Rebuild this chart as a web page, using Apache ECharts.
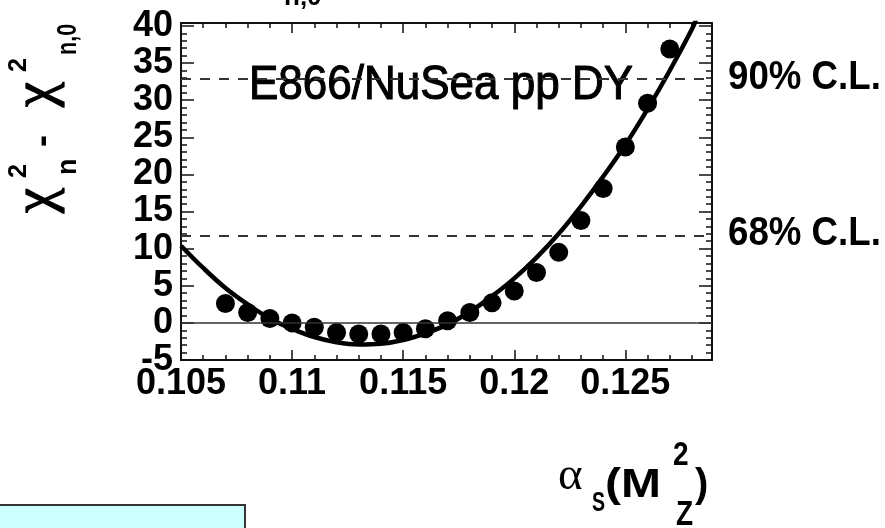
<!DOCTYPE html>
<html><head><meta charset="utf-8">
<script src="https://cdn.jsdelivr.net/npm/echarts@6/dist/echarts.min.js"></script>
<style>html,body{margin:0;padding:0;background:#fff}#c{width:885px;height:528px}</style>
</head><body><div id="c"></div>
<script>
// ---- data ----
const pointX = [0.107,0.108,0.109,0.110,0.111,0.112,0.113,0.114,0.115,0.116,0.117,0.118,0.119,0.120,0.121,0.122,0.123,0.124,0.125,0.126,0.127];
const pointY = [2.6,1.4,0.6,0.0,-0.6,-1.3,-1.5,-1.5,-1.3,-0.8,0.3,1.4,2.7,4.3,6.8,9.5,13.8,18.1,23.7,29.6,36.9];
const curveX = [0.105,0.106,0.107,0.108,0.109,0.110,0.111,0.112,0.113,0.114,0.115,0.116,0.117,0.118,0.119,0.120,0.121,0.122,0.123,0.124,0.125,0.126,0.127,0.128,0.1282];
const curveY = [10.4,7.4,4.7,2.5,0.6,-0.8,-1.9,-2.6,-2.9,-2.8,-2.3,-1.4,-0.2,1.5,3.6,6.0,8.8,12.0,15.7,19.7,24.0,28.8,34.0,39.6,41.0];
const zeroLevel = [0];
const clLevels = [11.8, 32.9];          // 68% C.L., 90% C.L.
const clLabels = ['68% C.L.', '90% C.L.'];
const plotLabel = ['E866/NuSea pp DY'];

const SANS = '"Liberation Sans", Arial, Helvetica, sans-serif';
const SERIF = '"Liberation Serif", "Times New Roman", serif';

const chart = echarts.init(document.getElementById('c'), null, {renderer: 'canvas'});

function zip(a, b) { return a.map((v, i) => [v, b[i]]); }
function mid(f) { return 0.3465 * f; } // baseline offset for 'middle'

const axisCommonX = {
  type: 'value', min: 0.105, max: 0.1289, interval: 0.005,
  axisLine: {show: true, onZero: false, lineStyle: {color: '#111', width: 2}},
  axisTick: {show: true, inside: true, length: 10, lineStyle: {color: '#111', width: 1.5}},
  minorTick: {show: true, splitNumber: 5, length: 5, lineStyle: {color: '#111', width: 1.5}},
  splitLine: {show: false}, minorSplitLine: {show: false}
};
const axisCommonY = {
  type: 'value', min: -5, max: 40.4, interval: 5,
  axisLine: {show: true, onZero: false, lineStyle: {color: '#111', width: 2}},
  axisTick: {show: true, inside: true, length: 13, lineStyle: {color: '#111', width: 1.5}},
  minorTick: {show: true, splitNumber: 5, length: 6, lineStyle: {color: '#111', width: 1.5}},
  splitLine: {show: false}, minorSplitLine: {show: false}
};

const option = {
  animation: false,
  backgroundColor: '#ffffff',
  grid: {left: 181, right: 173, top: 23, bottom: 168, containLabel: false},
  xAxis: [
    Object.assign({}, axisCommonX, {position: 'bottom',
      axisLabel: {show: true, margin: 6, color: '#000', fontSize: 36, fontWeight: 'bold', fontFamily: SANS,
        showMaxLabel: false, showMinLabel: true,
        formatter: v => String(+(+v).toFixed(3))}}),
    Object.assign({}, axisCommonX, {position: 'top', axisLabel: {show: false}})
  ],
  yAxis: [
    Object.assign({}, axisCommonY, {position: 'left',
      axisLabel: {show: true, margin: 8, color: '#000', fontSize: 36, fontWeight: 'bold', fontFamily: SANS,
        showMaxLabel: false, showMinLabel: true,
        formatter: v => String(Math.round(v))}}),
    Object.assign({}, axisCommonY, {position: 'right', axisLabel: {show: false}})
  ],
  series: [
    {
      type: 'line', data: [], z: 2, silent: true,
      markLine: {
        silent: true, symbol: 'none', label: {show: false}, animation: false,
        data: [
          {yAxis: zeroLevel[0], lineStyle: {type: 'solid', color: '#333', width: 1.7}},
          {yAxis: clLevels[0], lineStyle: {type: [10, 9], color: '#333', width: 2}},
          {yAxis: clLevels[1], lineStyle: {type: [10, 9], color: '#333', width: 2}}
        ]
      }
    },
    {
      type: 'line', data: zip(curveX, curveY), smooth: 0.4, symbol: 'none', z: 3,
      lineStyle: {color: '#000', width: 4.5}, clip: true
    },
    {
      type: 'scatter', data: zip(pointX, pointY), symbol: 'circle', symbolSize: 19, z: 4,
      itemStyle: {color: '#000', opacity: 1}
    }
  ],
  graphic: [
    // light cyan box bottom-left
    {type: 'rect', z: 1, shape: {x: -5, y: 505, width: 250, height: 40},
     style: {fill: '#CCFFFF', stroke: '#333', lineWidth: 2}},
    // top cut-off text
    {type: 'text', z: 1, x: 284, y: 7 - mid(26),
     style: {text: 'n,0', font: 'bold 26px ' + SANS, fill: '#000', align: 'left', verticalAlign: 'middle'}},
    // in-plot label
    {type: 'text', z: 0, x: 249, y: 86, scaleY: 1.1,
     style: {text: plotLabel[0], font: '44px ' + SANS, fill: '#000', stroke: '#000', lineWidth: 1, align: 'left', verticalAlign: 'middle'}},
    // C.L. labels
    {type: 'text', z: 1, x: 728, y: 77.5, scaleY: 1.13,
     style: {text: clLabels[1], font: 'bold 36.7px ' + SANS, fill: '#000', align: 'left', verticalAlign: 'middle'}},
    {type: 'text', z: 1, x: 728, y: 233.5, scaleY: 1.13,
     style: {text: clLabels[0], font: 'bold 36.7px ' + SANS, fill: '#000', align: 'left', verticalAlign: 'middle'}},
    // y-axis title (rotated)
    {type: 'group', x: 56, y: 213, rotation: Math.PI / 2, children: [
      {type: 'text', x: 0, y: -0.3375 * 56, style: {text: 'χ', font: '56px ' + SERIF, fill: '#000', stroke: '#000', lineWidth: 1.3, align: 'left', verticalAlign: 'middle'}},
      {type: 'text', x: 35, y: -28 - mid(25), style: {text: '2', font: 'bold 25px ' + SANS, fill: '#000', align: 'left', verticalAlign: 'middle'}},
      {type: 'text', x: 38, y: 22 - mid(27), style: {text: 'n', font: 'bold 27px ' + SANS, fill: '#000', align: 'left', verticalAlign: 'middle'}},
      {type: 'text', x: 66, y: -mid(36), style: {text: '-', font: 'bold 36px ' + SANS, fill: '#000', align: 'left', verticalAlign: 'middle'}},
      {type: 'text', x: 106, y: -0.3375 * 56, style: {text: 'χ', font: '56px ' + SERIF, fill: '#000', stroke: '#000', lineWidth: 1.3, align: 'left', verticalAlign: 'middle'}},
      {type: 'text', x: 141, y: -28 - mid(25), style: {text: '2', font: 'bold 25px ' + SANS, fill: '#000', align: 'left', verticalAlign: 'middle'}},
      {type: 'text', x: 158, y: 22 - mid(27), scaleX: 0.8, style: {text: 'n,0', font: 'bold 27px ' + SANS, fill: '#000', align: 'left', verticalAlign: 'middle'}}
    ]},
    // x-axis title
    {type: 'group', x: 0, y: 0, children: [
      {type: 'text', x: 558, y: 493 - 0.3375 * 47, style: {text: 'α', font: '47px ' + SERIF, fill: '#000', align: 'left', verticalAlign: 'middle'}},
      {type: 'text', x: 592, y: 517, scaleX: 0.7, style: {text: 'S', font: 'bold 28px ' + SANS, fill: '#000', align: 'left', verticalAlign: 'bottom'}},
      {type: 'text', x: 605, y: 500 - mid(40), scaleX: 1.2, style: {text: '(M', font: 'bold 40px ' + SANS, fill: '#000', align: 'left', verticalAlign: 'middle'}},
      {type: 'text', x: 673, y: 467 - 1.2 * mid(28), scaleY: 1.2, style: {text: '2', font: 'bold 28px ' + SANS, fill: '#000', align: 'left', verticalAlign: 'middle'}},
      {type: 'text', x: 676, y: 527 - 1.25 * mid(28), scaleY: 1.25, style: {text: 'Z', font: 'bold 28px ' + SANS, fill: '#000', align: 'left', verticalAlign: 'middle'}},
      {type: 'text', x: 695, y: 500 - mid(40), style: {text: ')', font: 'bold 40px ' + SANS, fill: '#000', align: 'left', verticalAlign: 'middle'}}
    ]}
  ]
};
chart.setOption(option);
</script>
</body></html>
